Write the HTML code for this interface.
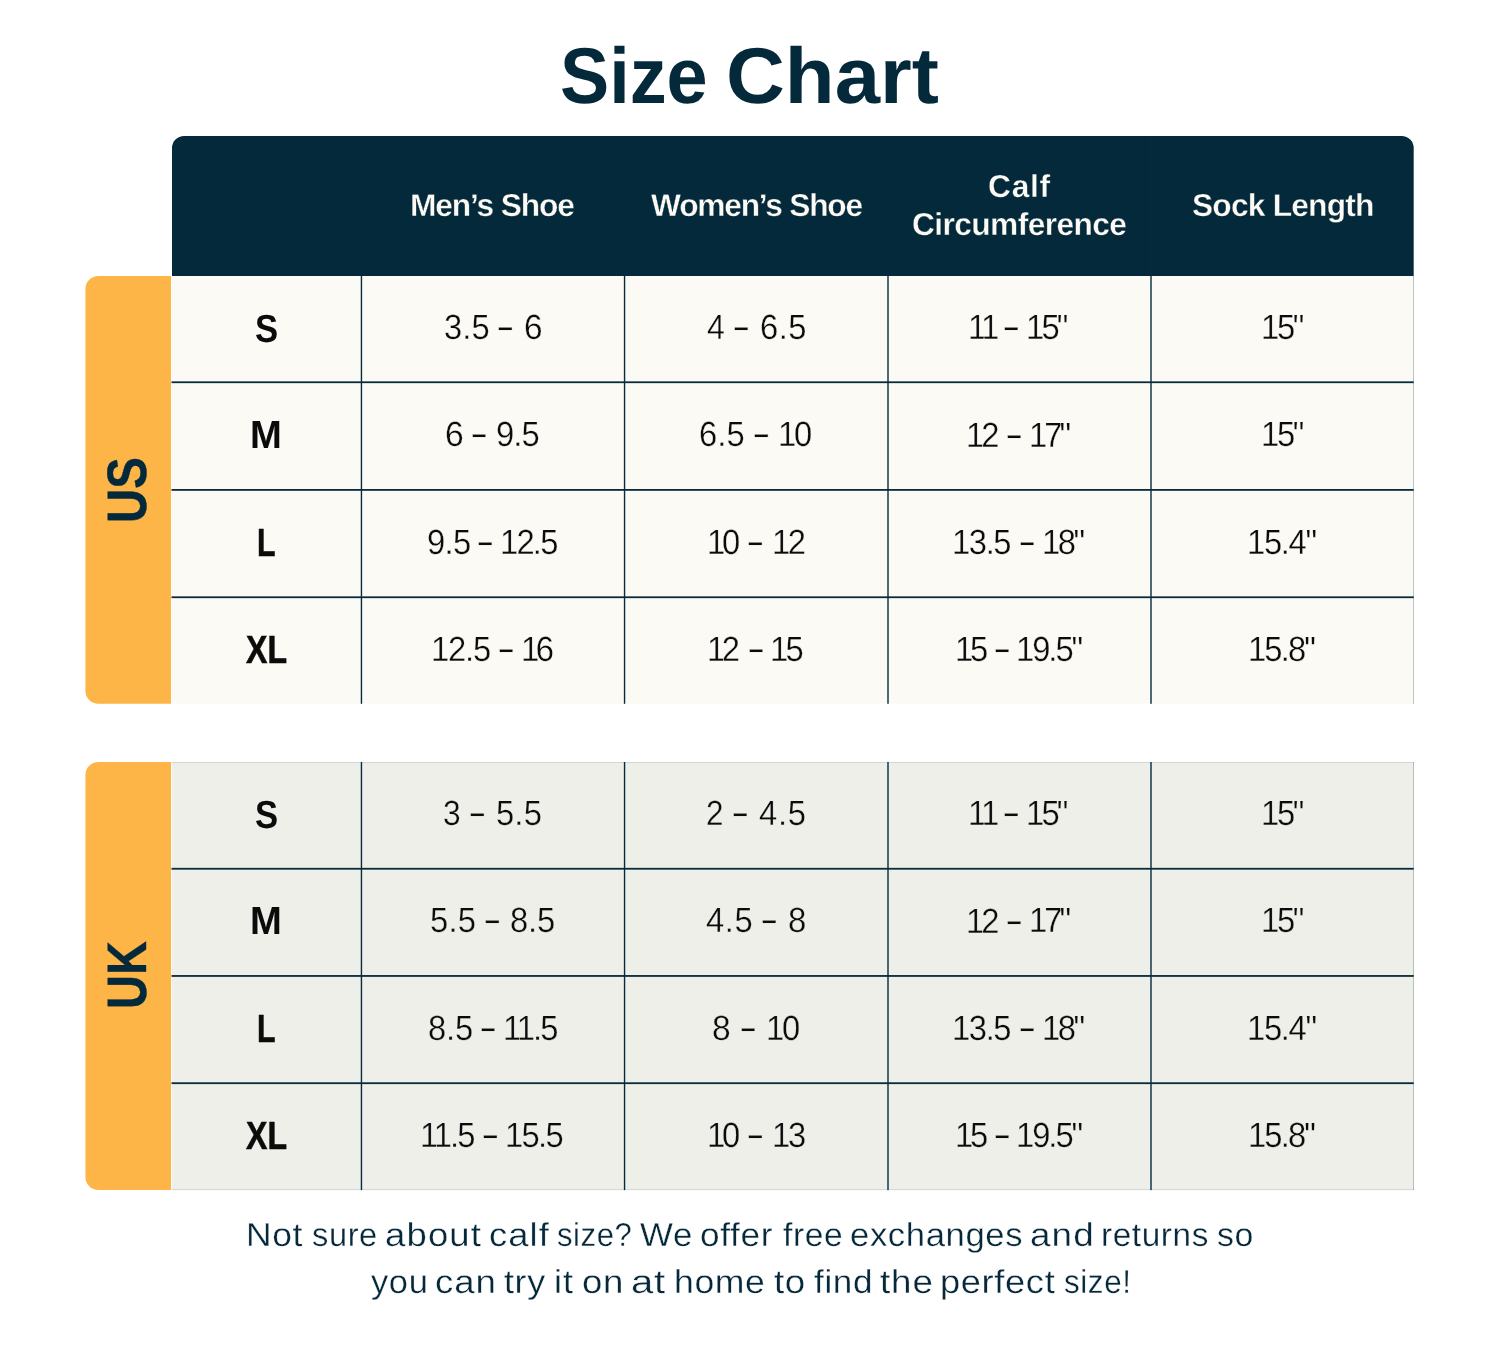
<!DOCTYPE html>
<html lang="en">
<head>
<meta charset="utf-8">
<title>Size Chart</title>
<style>

html,body{margin:0;padding:0;background:#fff;}
body{width:1500px;height:1350px;position:relative;overflow:hidden;font-family:"Liberation Sans",Arial,sans-serif;text-rendering:geometricPrecision;}
svg.bg{position:absolute;left:0;top:0;display:block;}
.t{position:absolute;white-space:nowrap;line-height:1;margin:0;padding:0;font-kerning:normal;transform-origin:0 50%;}
.title{font-size:79.2px;font-weight:700;color:#04293a;}
.th{font-size:31.7px;font-weight:700;color:#fbfaf5;-webkit-text-stroke:0.35px #04293a;}
.td{font-size:35.0px;font-weight:400;color:#0b0b0b;}
.sz{font-size:39.2px;font-weight:700;color:#0b0b0b;}
.note{font-size:33.0px;font-weight:400;color:#05293a;}
.us .td{-webkit-text-stroke:0.3px #fbfaf5;}
.uk .td{-webkit-text-stroke:0.3px #eeefe9;}
.note{-webkit-text-stroke:0.3px #fff;}
.rot{position:absolute;white-space:nowrap;line-height:1;font-weight:700;color:#04293a;transform-origin:0 0;-webkit-text-stroke:0.4px #04293a;}

</style>
</head>
<body>
<svg class="bg" width="1500" height="1350" viewBox="0 0 1500 1350" aria-hidden="true">
<path d="M172.0,276.0 V148.0 a12,12 0 0 1 12,-12 H1401.7 a12,12 0 0 1 12,12 V276.0 Z" fill="#04293a"/>
<path d="M171.0,276.0 H98.4 a13,13 0 0 0 -13,13 V690.8 a13,13 0 0 0 13,13 H171.0 Z" fill="#feb548"/>
<rect x="171.7" y="276.0" width="1242.0" height="427.8" fill="#fbfaf5"/>
<rect x="171.5" y="381.35" width="1242.2" height="1.8" fill="#072b3d"/>
<rect x="171.5" y="489.00" width="1242.2" height="1.8" fill="#072b3d"/>
<rect x="171.5" y="596.35" width="1242.2" height="1.8" fill="#072b3d"/>
<rect x="360.75" y="276.0" width="1.4" height="427.8" fill="#072b3d"/>
<rect x="623.85" y="276.0" width="1.4" height="427.8" fill="#072b3d"/>
<rect x="887.3" y="276.0" width="1.4" height="427.8" fill="#072b3d"/>
<rect x="1150.3" y="276.0" width="1.4" height="427.8" fill="#072b3d"/>
<rect x="1413.1" y="276.0" width="0.6" height="427.8" fill="#072b3d" opacity="0.45"/>
<path d="M171.0,762.0 H98.4 a13,13 0 0 0 -13,13 V1177.1 a13,13 0 0 0 13,13 H171.0 Z" fill="#feb548"/>
<rect x="171.7" y="762.0" width="1242.0" height="428.1" fill="#eeefe9"/>
<rect x="171.5" y="867.85" width="1242.2" height="1.8" fill="#072b3d"/>
<rect x="171.5" y="975.05" width="1242.2" height="1.8" fill="#072b3d"/>
<rect x="171.5" y="1082.30" width="1242.2" height="1.8" fill="#072b3d"/>
<rect x="360.75" y="762.0" width="1.4" height="428.1" fill="#072b3d"/>
<rect x="623.85" y="762.0" width="1.4" height="428.1" fill="#072b3d"/>
<rect x="887.3" y="762.0" width="1.4" height="428.1" fill="#072b3d"/>
<rect x="1150.3" y="762.0" width="1.4" height="428.1" fill="#072b3d"/>
<rect x="1413.1" y="762.0" width="0.6" height="428.1" fill="#072b3d" opacity="0.45"/>
<rect x="172.0" y="762.0" width="1241.7" height="0.5" fill="#072b3d" opacity="0.25"/>
<rect x="172.0" y="1189.6" width="1241.7" height="0.5" fill="#072b3d" opacity="0.25"/>
<rect x="360.75" y="136.0" width="1.4" height="140.0" fill="#0a3044" opacity="0.4"/>
<rect x="623.85" y="136.0" width="1.4" height="140.0" fill="#0a3044" opacity="0.4"/>
<rect x="887.3" y="136.0" width="1.4" height="140.0" fill="#0a3044" opacity="0.4"/>
<rect x="1150.3" y="136.0" width="1.4" height="140.0" fill="#0a3044" opacity="0.4"/>
</svg>
<h1 style="margin:0;font-size:inherit;font-weight:inherit"><span class="t title" id="t1" style="left:560.00px;top:36.16px;transform:scaleX(0.9318)">Size</span> <span class="t title" id="t2" style="left:726.00px;top:36.16px;transform:scaleX(1.0295)">Chart</span></h1>
<div class="thead">
<div class="t th" id="h1" style="left:410.00px;top:190.17px;letter-spacing:-1.105px">Men’s Shoe</div>
<div class="t th" id="h2" style="left:651.00px;top:190.17px;letter-spacing:-1.209px">Women’s Shoe</div>
<div class="t th" id="h3a" style="left:988.00px;top:171.07px;letter-spacing:0.767px">Calf</div>
<div class="t th" id="h3b" style="left:912.00px;top:209.17px;letter-spacing:-0.577px">Circumference</div>
<div class="t th" id="h4" style="left:1192.00px;top:190.17px;letter-spacing:-0.777px">Sock Length</div>
</div>
<section class="us">
<div class="rot" id="uslab" style="left:100.00px;top:523.00px;font-size:55.5px;transform:rotate(-90deg) scale(0.8529,1.0000);letter-spacing:0.00px">US</div>
<div class="row">
<div class="t sz" id="us0l" style="left:255.00px;top:309.72px;transform:scaleX(0.8850)">S</div>
<div class="cell"><span class="t td" id="us0c0t0" style="left:444.00px;top:309.57px;letter-spacing:0.101px;transform:scaleX(0.9350)">3.5</span> <span class="t td" id="us0c0t1" style="left:496.00px;top:309.57px;transform:translateY(-1.4px) scaleX(1.5921)">-</span> <span class="t td" id="us0c0t2" style="left:524.00px;top:309.57px;transform:scaleX(0.9529)">6</span></div>
<div class="cell"><span class="t td" id="us0c1t0" style="left:707.00px;top:309.57px;transform:scaleX(0.9173)">4</span> <span class="t td" id="us0c1t1" style="left:732.00px;top:309.57px;transform:translateY(-1.4px) scaleX(1.5807)">-</span> <span class="t td" id="us0c1t2" style="left:760.00px;top:309.57px;letter-spacing:0.486px;transform:scaleX(0.9350)">6.5</span></div>
<div class="cell"><span class="t td" id="us0c2t0" style="left:968.00px;top:309.57px;letter-spacing:-3.051px;transform:scaleX(0.9350)">11</span> <span class="t td" id="us0c2t1" style="left:1002.00px;top:309.57px;transform:translateY(-1.4px) scaleX(1.5807)">-</span> <span class="t td" id="us0c2t2" style="left:1026.00px;top:309.57px;letter-spacing:-2.989px;transform:scaleX(0.9350)">15"</span></div>
<div class="cell"><span class="t td" id="us0c3t0" style="left:1261.00px;top:309.57px;letter-spacing:-2.454px;transform:scaleX(0.9350)">15"</span></div>
</div>
<div class="row">
<div class="t sz" id="us1l" style="left:250.00px;top:415.82px;transform:scaleX(0.9749)">M</div>
<div class="cell"><span class="t td" id="us1c0t0" style="left:445.00px;top:416.87px;transform:scaleX(0.9611)">6</span> <span class="t td" id="us1c0t1" style="left:470.00px;top:416.87px;transform:translateY(-1.4px) scaleX(1.5688)">-</span> <span class="t td" id="us1c0t2" style="left:496.00px;top:416.87px;letter-spacing:-1.014px;transform:scaleX(0.9350)">9.5</span></div>
<div class="cell"><span class="t td" id="us1c1t0" style="left:699.00px;top:416.87px;letter-spacing:0.115px;transform:scaleX(0.9350)">6.5</span> <span class="t td" id="us1c1t1" style="left:752.00px;top:416.87px;transform:translateY(-1.4px) scaleX(1.5921)">-</span> <span class="t td" id="us1c1t2" style="left:778.00px;top:416.87px;letter-spacing:-2.379px;transform:scaleX(0.9350)">10</span></div>
<div class="cell"><span class="t td" id="us1c2t0" style="left:966.00px;top:417.87px;letter-spacing:-3.062px;transform:scaleX(0.9350)">12</span> <span class="t td" id="us1c2t1" style="left:1005.00px;top:417.87px;transform:translateY(-1.4px) scaleX(1.5743)">-</span> <span class="t td" id="us1c2t2" style="left:1029.00px;top:417.87px;letter-spacing:-3.134px;transform:scaleX(0.9350)">17"</span></div>
<div class="cell"><span class="t td" id="us1c3t0" style="left:1261.00px;top:416.87px;letter-spacing:-2.454px;transform:scaleX(0.9350)">15"</span></div>
</div>
<div class="row">
<div class="t sz" id="us2l" style="left:257.00px;top:523.92px;transform:scaleX(0.7731);-webkit-text-stroke:0.6px #0b0b0b">L</div>
<div class="cell"><span class="t td" id="us2c0t0" style="left:427.00px;top:525.17px;letter-spacing:-0.730px;transform:scaleX(0.9350)">9.5</span> <span class="t td" id="us2c0t1" style="left:476.00px;top:525.17px;transform:translateY(-1.4px) scaleX(1.5807)">-</span> <span class="t td" id="us2c0t2" style="left:500.00px;top:525.17px;letter-spacing:-1.895px;transform:scaleX(0.9350)">12.5</span></div>
<div class="cell"><span class="t td" id="us2c1t0" style="left:707.00px;top:525.17px;letter-spacing:-3.293px;transform:scaleX(0.9350)">10</span> <span class="t td" id="us2c1t1" style="left:746.00px;top:525.17px;transform:translateY(-1.4px) scaleX(1.5921)">-</span> <span class="t td" id="us2c1t2" style="left:772.00px;top:525.17px;letter-spacing:-2.569px;transform:scaleX(0.9350)">12</span></div>
<div class="cell"><span class="t td" id="us2c2t0" style="left:952.00px;top:525.17px;letter-spacing:-1.476px;transform:scaleX(0.9350)">13.5</span> <span class="t td" id="us2c2t1" style="left:1018.00px;top:525.17px;transform:translateY(-1.4px) scaleX(1.5743)">-</span> <span class="t td" id="us2c2t2" style="left:1042.00px;top:525.17px;letter-spacing:-2.599px;transform:scaleX(0.9350)">18"</span></div>
<div class="cell"><span class="t td" id="us2c3t0" style="left:1247.00px;top:525.17px;letter-spacing:-1.411px;transform:scaleX(0.9350)">15.4"</span></div>
</div>
<div class="row">
<div class="t sz" id="us3l" style="left:246.00px;top:631.02px;transform:scaleX(0.8187);-webkit-text-stroke:0.6px #0b0b0b">XL</div>
<div class="cell"><span class="t td" id="us3c0t0" style="left:431.00px;top:632.27px;letter-spacing:-1.289px;transform:scaleX(0.9350)">12.5</span> <span class="t td" id="us3c0t1" style="left:497.00px;top:632.27px;transform:translateY(-1.4px) scaleX(1.5743)">-</span> <span class="t td" id="us3c0t2" style="left:521.00px;top:632.27px;letter-spacing:-3.746px;transform:scaleX(0.9350)">16</span></div>
<div class="cell"><span class="t td" id="us3c1t0" style="left:707.00px;top:632.27px;letter-spacing:-3.639px;transform:scaleX(0.9350)">12</span> <span class="t td" id="us3c1t1" style="left:747.00px;top:632.27px;transform:translateY(-1.4px) scaleX(1.5688)">-</span> <span class="t td" id="us3c1t2" style="left:770.00px;top:632.27px;letter-spacing:-2.838px;transform:scaleX(0.9350)">15</span></div>
<div class="cell"><span class="t td" id="us3c2t0" style="left:955.00px;top:632.27px;letter-spacing:-3.339px;transform:scaleX(0.9350)">15</span> <span class="t td" id="us3c2t1" style="left:993.00px;top:632.27px;transform:translateY(-1.4px) scaleX(1.5743)">-</span> <span class="t td" id="us3c2t2" style="left:1016.00px;top:632.27px;letter-spacing:-2.164px;transform:scaleX(0.9350)">19.5"</span></div>
<div class="cell"><span class="t td" id="us3c3t0" style="left:1248.00px;top:632.27px;letter-spacing:-1.995px;transform:scaleX(0.9350)">15.8"</span></div>
</div>
</section>
<section class="uk">
<div class="rot" id="uklab" style="left:100.00px;top:1009.00px;font-size:55.5px;transform:rotate(-90deg) scale(0.8459,1.0000);letter-spacing:0.00px">UK</div>
<div class="row">
<div class="t sz" id="uk0l" style="left:255.00px;top:795.72px;transform:scaleX(0.8850)">S</div>
<div class="cell"><span class="t td" id="uk0c0t0" style="left:443.00px;top:795.57px;transform:scaleX(0.9064)">3</span> <span class="t td" id="uk0c0t1" style="left:468.00px;top:795.57px;transform:translateY(-1.4px) scaleX(1.5921)">-</span> <span class="t td" id="uk0c0t2" style="left:496.00px;top:795.57px;letter-spacing:0.187px;transform:scaleX(0.9350)">5.5</span></div>
<div class="cell"><span class="t td" id="uk0c1t0" style="left:706.00px;top:795.57px;transform:scaleX(0.8987)">2</span> <span class="t td" id="uk0c1t1" style="left:731.00px;top:795.57px;transform:translateY(-1.4px) scaleX(1.5807)">-</span> <span class="t td" id="uk0c1t2" style="left:759.00px;top:795.57px;letter-spacing:0.796px;transform:scaleX(0.9350)">4.5</span></div>
<div class="cell"><span class="t td" id="uk0c2t0" style="left:968.00px;top:795.57px;letter-spacing:-3.051px;transform:scaleX(0.9350)">11</span> <span class="t td" id="uk0c2t1" style="left:1002.00px;top:795.57px;transform:translateY(-1.4px) scaleX(1.5807)">-</span> <span class="t td" id="uk0c2t2" style="left:1026.00px;top:795.57px;letter-spacing:-2.989px;transform:scaleX(0.9350)">15"</span></div>
<div class="cell"><span class="t td" id="uk0c3t0" style="left:1261.00px;top:795.57px;letter-spacing:-2.454px;transform:scaleX(0.9350)">15"</span></div>
</div>
<div class="row">
<div class="t sz" id="uk1l" style="left:250.00px;top:901.82px;transform:scaleX(0.9749)">M</div>
<div class="cell"><span class="t td" id="uk1c0t0" style="left:430.00px;top:902.87px;letter-spacing:0.197px;transform:scaleX(0.9350)">5.5</span> <span class="t td" id="uk1c0t1" style="left:483.00px;top:902.87px;transform:translateY(-1.4px) scaleX(1.5921)">-</span> <span class="t td" id="uk1c0t2" style="left:510.00px;top:902.87px;letter-spacing:-0.214px;transform:scaleX(0.9350)">8.5</span></div>
<div class="cell"><span class="t td" id="uk1c1t0" style="left:706.00px;top:902.87px;letter-spacing:0.610px;transform:scaleX(0.9350)">4.5</span> <span class="t td" id="uk1c1t1" style="left:760.00px;top:902.87px;transform:translateY(-1.4px) scaleX(1.5807)">-</span> <span class="t td" id="uk1c1t2" style="left:788.00px;top:902.87px;transform:scaleX(0.9438)">8</span></div>
<div class="cell"><span class="t td" id="uk1c2t0" style="left:966.00px;top:903.87px;letter-spacing:-3.062px;transform:scaleX(0.9350)">12</span> <span class="t td" id="uk1c2t1" style="left:1005.00px;top:903.87px;transform:translateY(-1.4px) scaleX(1.5743)">-</span> <span class="t td" id="uk1c2t2" style="left:1029.00px;top:902.87px;letter-spacing:-3.134px;transform:scaleX(0.9350)">17"</span></div>
<div class="cell"><span class="t td" id="uk1c3t0" style="left:1261.00px;top:902.87px;letter-spacing:-2.454px;transform:scaleX(0.9350)">15"</span></div>
</div>
<div class="row">
<div class="t sz" id="uk2l" style="left:257.00px;top:1009.92px;transform:scaleX(0.7731);-webkit-text-stroke:0.6px #0b0b0b">L</div>
<div class="cell"><span class="t td" id="uk2c0t0" style="left:428.00px;top:1011.17px;letter-spacing:-0.214px;transform:scaleX(0.9350)">8.5</span> <span class="t td" id="uk2c0t1" style="left:479.00px;top:1011.17px;transform:translateY(-1.4px) scaleX(1.5688)">-</span> <span class="t td" id="uk2c0t2" style="left:503.00px;top:1011.17px;letter-spacing:-2.116px;transform:scaleX(0.9350)">11.5</span></div>
<div class="cell"><span class="t td" id="uk2c1t0" style="left:712.00px;top:1011.17px;transform:scaleX(0.9594)">8</span> <span class="t td" id="uk2c1t1" style="left:739.00px;top:1011.17px;transform:translateY(-1.4px) scaleX(1.5743)">-</span> <span class="t td" id="uk2c1t2" style="left:766.00px;top:1011.17px;letter-spacing:-2.230px;transform:scaleX(0.9350)">10</span></div>
<div class="cell"><span class="t td" id="uk2c2t0" style="left:952.00px;top:1011.17px;letter-spacing:-1.476px;transform:scaleX(0.9350)">13.5</span> <span class="t td" id="uk2c2t1" style="left:1018.00px;top:1011.17px;transform:translateY(-1.4px) scaleX(1.5743)">-</span> <span class="t td" id="uk2c2t2" style="left:1042.00px;top:1011.17px;letter-spacing:-2.599px;transform:scaleX(0.9350)">18"</span></div>
<div class="cell"><span class="t td" id="uk2c3t0" style="left:1247.00px;top:1011.17px;letter-spacing:-1.411px;transform:scaleX(0.9350)">15.4"</span></div>
</div>
<div class="row">
<div class="t sz" id="uk3l" style="left:246.00px;top:1117.02px;transform:scaleX(0.8187);-webkit-text-stroke:0.6px #0b0b0b">XL</div>
<div class="cell"><span class="t td" id="uk3c0t0" style="left:420.00px;top:1118.27px;letter-spacing:-2.116px;transform:scaleX(0.9350)">11.5</span> <span class="t td" id="uk3c0t1" style="left:481.00px;top:1118.27px;transform:translateY(-1.4px) scaleX(1.5921)">-</span> <span class="t td" id="uk3c0t2" style="left:505.00px;top:1118.27px;letter-spacing:-1.778px;transform:scaleX(0.9350)">15.5</span></div>
<div class="cell"><span class="t td" id="uk3c1t0" style="left:707.00px;top:1118.27px;letter-spacing:-3.293px;transform:scaleX(0.9350)">10</span> <span class="t td" id="uk3c1t1" style="left:746.00px;top:1118.27px;transform:translateY(-1.4px) scaleX(1.5921)">-</span> <span class="t td" id="uk3c1t2" style="left:772.00px;top:1118.27px;letter-spacing:-2.258px;transform:scaleX(0.9350)">13</span></div>
<div class="cell"><span class="t td" id="uk3c2t0" style="left:955.00px;top:1118.27px;letter-spacing:-3.339px;transform:scaleX(0.9350)">15</span> <span class="t td" id="uk3c2t1" style="left:993.00px;top:1118.27px;transform:translateY(-1.4px) scaleX(1.5743)">-</span> <span class="t td" id="uk3c2t2" style="left:1016.00px;top:1118.27px;letter-spacing:-2.164px;transform:scaleX(0.9350)">19.5"</span></div>
<div class="cell"><span class="t td" id="uk3c3t0" style="left:1248.00px;top:1118.27px;letter-spacing:-1.995px;transform:scaleX(0.9350)">15.8"</span></div>
</div>
</section>
<p class="notewrap" style="margin:0">
<span class="t note" id="n1w0" style="left:246.00px;top:1218.07px;letter-spacing:0.600px;transform:scaleX(1.0736)">Not</span> <span class="t note" id="n1w1" style="left:312.00px;top:1218.07px;letter-spacing:0.600px;transform:scaleX(0.9884)">sure</span> <span class="t note" id="n1w2" style="left:385.00px;top:1218.07px;letter-spacing:1.057px;transform:scaleX(1.1050)">about</span> <span class="t note" id="n1w3" style="left:489.00px;top:1218.07px;letter-spacing:1.014px;transform:scaleX(1.0983)">calf</span> <span class="t note" id="n1w4" style="left:557.00px;top:1218.07px;letter-spacing:0.600px;transform:scaleX(0.9416)">size?</span> <span class="t note" id="n1w5" style="left:640.00px;top:1218.07px;letter-spacing:0.600px;transform:scaleX(1.0554)">We</span> <span class="t note" id="n1w6" style="left:700.00px;top:1218.07px;letter-spacing:0.600px;transform:scaleX(1.0666)">offer</span> <span class="t note" id="n1w7" style="left:783.00px;top:1218.07px;letter-spacing:0.600px;transform:scaleX(1.0175)">free</span> <span class="t note" id="n1w8" style="left:850.00px;top:1218.07px;letter-spacing:0.600px;transform:scaleX(1.0490)">exchanges</span> <span class="t note" id="n1w9" style="left:1030.00px;top:1218.07px;letter-spacing:1.012px;transform:scaleX(1.1146)">and</span> <span class="t note" id="n1w10" style="left:1101.00px;top:1218.07px;letter-spacing:0.600px;transform:scaleX(1.0101)">returns</span> <span class="t note" id="n1w11" style="left:1217.00px;top:1218.07px;letter-spacing:0.600px;transform:scaleX(1.0259)">so</span>
<br>
<span class="t note" id="n2w0" style="left:371.00px;top:1265.37px;letter-spacing:0.600px;transform:scaleX(1.0440)">you</span> <span class="t note" id="n2w1" style="left:435.00px;top:1265.37px;letter-spacing:0.901px;transform:scaleX(1.1073)">can</span> <span class="t note" id="n2w2" style="left:504.00px;top:1265.37px;letter-spacing:0.600px;transform:scaleX(1.0858)">try</span> <span class="t note" id="n2w3" style="left:554.00px;top:1265.37px;letter-spacing:1.031px;transform:scaleX(1.0860)">it</span> <span class="t note" id="n2w4" style="left:582.00px;top:1265.37px;letter-spacing:0.600px;transform:scaleX(1.1105)">on</span> <span class="t note" id="n2w5" style="left:631.00px;top:1265.37px;letter-spacing:0.600px;transform:scaleX(1.2124)">at</span> <span class="t note" id="n2w6" style="left:674.00px;top:1265.37px;letter-spacing:0.600px;transform:scaleX(1.0777)">home</span> <span class="t note" id="n2w7" style="left:774.00px;top:1265.37px;letter-spacing:0.600px;transform:scaleX(1.1119)">to</span> <span class="t note" id="n2w8" style="left:814.00px;top:1265.37px;letter-spacing:0.600px;transform:scaleX(1.0622)">find</span> <span class="t note" id="n2w9" style="left:880.00px;top:1265.37px;letter-spacing:0.775px;transform:scaleX(1.1138)">the</span> <span class="t note" id="n2w10" style="left:940.00px;top:1265.37px;letter-spacing:0.600px;transform:scaleX(1.0979)">perfect</span> <span class="t note" id="n2w11" style="left:1064.00px;top:1265.37px;letter-spacing:0.600px;transform:scaleX(0.9526)">size!</span>
</p>
</body>
</html>
